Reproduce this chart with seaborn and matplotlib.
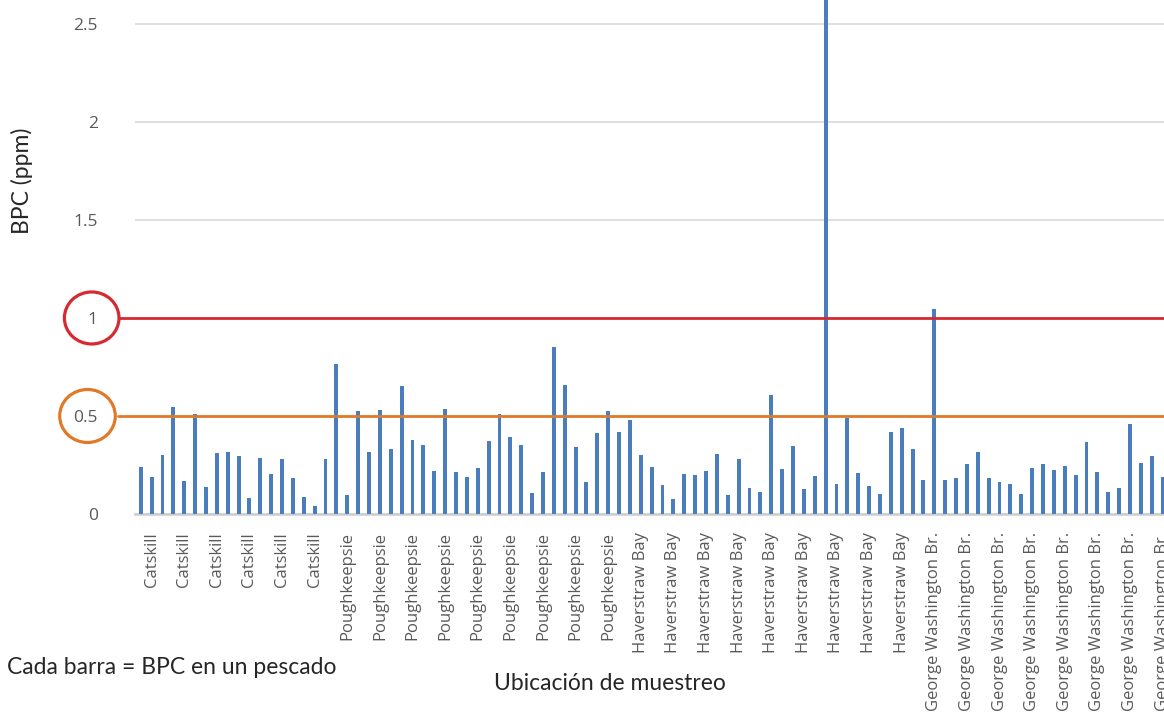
import pandas as pd
import numpy as np
import matplotlib
matplotlib.use("Agg")
import matplotlib.pyplot as plt
import matplotlib.transforms as mtransforms
from matplotlib.patches import Ellipse
import seaborn as sns

# --- data (one bar per fish) ---
catskill = [0.241, 0.188, 0.300, 0.545, 0.168, 0.511, 0.136, 0.312, 0.316,
            0.295, 0.081, 0.288, 0.202, 0.280, 0.183, 0.088, 0.039, 0.280]
poughkeepsie = [0.765, 0.098, 0.524, 0.316, 0.528, 0.331, 0.651, 0.377, 0.351,
                0.217, 0.534, 0.212, 0.188, 0.236, 0.371, 0.511, 0.392, 0.353,
                0.105, 0.212, 0.850, 0.656, 0.341, 0.163, 0.412, 0.526, 0.417]
haverstraw = [0.478, 0.299, 0.241, 0.149, 0.075, 0.205, 0.198, 0.219, 0.304,
              0.098, 0.282, 0.134, 0.114, 0.606, 0.232, 0.349, 0.127, 0.193,
              2.900, 0.154, 0.490, 0.209, 0.142, 0.102, 0.417, 0.438, 0.334]
gwb = [0.175, 1.045, 0.175, 0.182, 0.254, 0.314, 0.182, 0.163, 0.151, 0.102,
       0.234, 0.254, 0.224, 0.246, 0.198, 0.365, 0.212, 0.110, 0.131, 0.458,
       0.261, 0.295, 0.188]

locations = (["Catskill"] * len(catskill) + ["Poughkeepsie"] * len(poughkeepsie)
             + ["Haverstraw Bay"] * len(haverstraw)
             + ["George Washington Br."] * len(gwb))
bpc = catskill + poughkeepsie + haverstraw + gwb

df = pd.DataFrame({"pez": np.arange(len(bpc)), "ubicacion": locations, "bpc": bpc})

limit_red = 1.0
limit_orange = 0.5
y_ticks = [0, 0.5, 1, 1.5, 2, 2.5]
y_tick_labels = ["0", "0.5", "1", "1.5", "2", "2.5"]

# --- plot ---
sns.set_theme(style="white")
plt.rcParams["font.family"] = ["Open Sans", "DejaVu Sans"]

W, H = 1164, 715
fig = plt.figure(figsize=(W / 100, H / 100), dpi=100)
ax_left, ax_bottom = 135.3, 201
ax = fig.add_axes([ax_left / W, ax_bottom / H, (W - ax_left) / W, (H - ax_bottom) / H])

sns.barplot(data=df, x="pez", y="bpc", color="#4a7dbd", saturation=1, width=0.36,
            linewidth=0, ax=ax, zorder=3)

ax.set_ylim(0, 2.622)
ax.set_xlim(-0.5, 94.13)
ax.set_yticks(y_ticks)
ax.set_yticklabels(y_tick_labels)
ax.yaxis.grid(True, color="#d9d9d9", linewidth=1.2, zorder=0)
ax.set_axisbelow(True)

# Excel shows only every third category label
shown = np.arange(1, len(bpc), 3)
ax.set_xticks(shown)
ax.set_xticklabels([locations[i] for i in shown], rotation=90, va="top", ha="center")

ax.tick_params(axis="y", length=0, pad=27, labelsize=12.5, labelcolor="#595959")
ax.tick_params(axis="x", length=0, pad=13, labelsize=12, labelcolor="#595959")

for s in ["top", "right", "left"]:
    ax.spines[s].set_visible(False)
ax.spines["bottom"].set_color("#d0d0d0")
ax.spines["bottom"].set_linewidth(2)
ax.set_xlabel("")
ax.set_ylabel("")

# reference limits with circled tick labels
red = "#d42a30"
orange = "#e07a2a"
ax.axhline(limit_red, xmin=-0.016, xmax=1, color=red, lw=2, clip_on=False, zorder=4)
ax.axhline(limit_orange, xmin=-0.017, xmax=1, color=orange, lw=2, clip_on=False, zorder=4)

trans = mtransforms.blended_transform_factory(fig.transFigure, ax.transData)
px = 1 / 196.0  # data units per pixel on y
ax.add_artist(Ellipse((91.7 / W, limit_red), 54.6 / W, 52 * px, transform=trans,
                      fill=False, ec=red, lw=2.3, clip_on=False))
ax.add_artist(Ellipse((87.5 / W, limit_orange), 55.6 / W, 53 * px, transform=trans,
                      fill=False, ec=orange, lw=2.3, clip_on=False))

title_font = ["Lato", "DejaVu Sans"]
fig.text(22 / W, 1 - 181 / H, "BPC (ppm)", rotation=90, ha="center", va="center",
         fontsize=16.5, color="#262626", family=title_font)
fig.text(610 / W, 1 - 683 / H, "Ubicación de muestreo", ha="center", va="center",
         fontsize=16.5, color="#262626", family=title_font)
fig.text(7 / W, 1 - 668 / H, "Cada barra = BPC en un pescado", ha="left", va="center",
         fontsize=16.5, color="#262626", family=title_font)

fig.savefig("out.png", dpi=100)
